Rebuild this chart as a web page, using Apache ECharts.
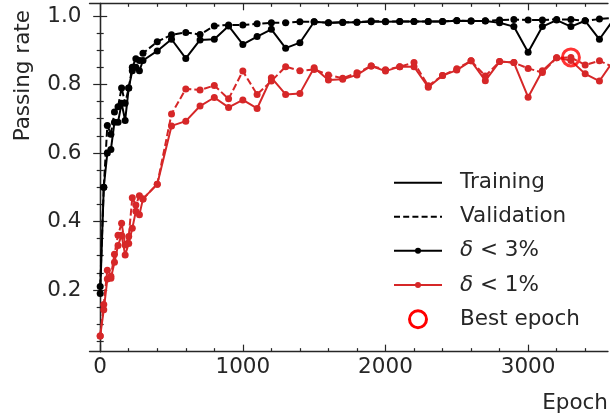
<!DOCTYPE html>
<html>
<head>
<meta charset="utf-8">
<script src="https://cdn.jsdelivr.net/npm/echarts@6/dist/echarts.min.js"></script>
<style>html,body{margin:0;padding:0;background:#fff;}#c{width:610px;height:416px;}</style>
</head>
<body>
<div id="c"></div>
<script>
// ---- data ----
const epochs = [0,25,50,75,100,125,150,175,200,225,250,275,300,
  400,500,600,700,800,900,1000,1100,1200,1300,1400,1500,1600,1700,1800,1900,2000,
  2100,2200,2300,2400,2500,2600,2700,2800,2900,3000,3100,3200,3300,3400,3500,3600];
const train3 = [0.19,0.50,0.60,0.61,0.69,0.69,0.745,0.695,0.79,0.84,0.85,0.84,0.87,
  0.898,0.932,0.876,0.93,0.932,0.971,0.917,0.94,0.961,0.906,0.922,0.983,0.98,0.981,0.982,0.983,0.983,
  0.984,0.984,0.984,0.984,0.986,0.985,0.985,0.98,0.969,0.894,0.969,0.988,0.969,0.986,0.932,0.99];
const valid3 = [0.21,0.50,0.68,0.655,0.72,0.735,0.79,0.745,0.79,0.85,0.875,0.87,0.891,
  0.925,0.945,0.952,0.946,0.971,0.974,0.974,0.977,0.98,0.98,0.983,0.983,0.98,0.982,0.982,0.985,0.984,
  0.984,0.984,0.984,0.984,0.987,0.985,0.986,0.988,0.99,0.988,0.988,0.99,0.99,0.986,0.991,0.995];
const train1 = [0.066,0.142,0.232,0.234,0.281,0.33,0.36,0.302,0.336,0.38,0.43,0.42,0.466,
  0.509,0.679,0.693,0.737,0.762,0.733,0.755,0.73,0.82,0.771,0.774,0.849,0.813,0.815,0.828,0.854,0.839,
  0.852,0.852,0.792,0.826,0.842,0.869,0.811,0.867,0.864,0.763,0.84,0.878,0.87,0.831,0.81,0.87];
const valid1 = [0.066,0.158,0.258,0.24,0.304,0.36,0.395,0.331,0.356,0.469,0.448,0.475,0.466,
  0.509,0.714,0.787,0.784,0.797,0.758,0.839,0.771,0.81,0.852,0.84,0.844,0.828,0.818,0.834,0.854,0.843,
  0.852,0.864,0.796,0.826,0.846,0.869,0.825,0.867,0.864,0.847,0.835,0.878,0.879,0.857,0.869,0.85];
const bestEpoch = [3300, 0.879];
const xMajorTicks = [0,1000,2000,3000];
const xMinorTicks = [200,400,600,800,1200,1400,1600,1800,2200,2400,2600,2800,3200,3400];
const yMajorTicks = [0.2,0.4,0.6,0.8,1.0];
const yMinorTicks = [0.05,0.1,0.15,0.25,0.3,0.35,0.45,0.5,0.55,0.65,0.7,0.75,0.85,0.9,0.95];
const legendLabels = ['Training','Validation','δ < 3%','δ < 1%','Best epoch'];
const xName = 'Epoch';
const yName = 'Passing rate';

// ---- chart ----
const FONT = 'DejaVu Sans';
const TXT = '#262626';
const FS = 21.5;
const X_MIN = -75, X_MAX = 3560, Y_MIN = 0.02, Y_MAX = 1.037;
const zip = (xs, ys) => xs.map((x, i) => [x, ys[i]]);

function xAx(pos, ticks, len, showLine, labels) {
  return {
    type: 'value', position: pos, min: X_MIN, max: X_MAX,
    axisLine: { show: showLine, lineStyle: { color: TXT, width: 1.3 } },
    axisTick: { show: true, inside: true, length: len, customValues: ticks, lineStyle: { color: TXT, width: 1.2 } },
    axisLabel: { show: labels, customValues: ticks, color: TXT, fontSize: FS, fontFamily: FONT, margin: 5,
      formatter: v => String(Math.round(v)) },
    splitLine: { show: false }, minorTick: { show: false }
  };
}
function yAx(pos, ticks, len, showLine, labels) {
  return {
    type: 'value', position: pos, min: Y_MIN, max: Y_MAX,
    axisLine: { show: showLine, lineStyle: { color: TXT, width: 1.3 } },
    axisTick: { show: true, inside: true, length: len, customValues: ticks, lineStyle: { color: TXT, width: 1.2 } },
    axisLabel: { show: labels, customValues: ticks, color: TXT, fontSize: FS, fontFamily: FONT, margin: 8,
      formatter: v => v.toFixed(1) },
    splitLine: { show: false }, minorTick: { show: false }
  };
}

const chart = echarts.init(document.getElementById('c'), null, { renderer: 'canvas' });

const RED = '#d62728';
const BLACK = '#000000';
const DASH = [7, 3];

const legX1 = 394, legX2 = 442, legTx = 460;
const legY = [182.7, 216.7, 250.7, 285, 319.3];
const graphics = [];
function legLine(y, color, dash) {
  graphics.push({ type: 'line', shape: { x1: legX1, y1: y, x2: legX2, y2: y },
    style: { stroke: color, lineWidth: 2, lineDash: dash || null }, z: 100 });
}
legLine(legY[0], BLACK);
legLine(legY[1], BLACK, [6, 3.2]);
legLine(legY[2], BLACK);
graphics.push({ type: 'circle', shape: { cx: 418, cy: legY[2], r: 3 }, style: { fill: BLACK }, z: 100 });
legLine(legY[3], RED);
graphics.push({ type: 'circle', shape: { cx: 418, cy: legY[3], r: 3 }, style: { fill: RED }, z: 100 });
graphics.push({ type: 'circle', shape: { cx: 418, cy: legY[4], r: 8.5 }, style: { fill: null, stroke: '#ff0000', lineWidth: 3 }, z: 100 });
legendLabels.forEach((t, i) => {
  const isDelta = t.startsWith('δ');
  graphics.push({ type: 'text', x: legTx, y: legY[i], z: 100,
    style: { text: isDelta ? '{i|δ}' + t.slice(1) : t, fill: TXT, fontSize: FS, fontFamily: FONT,
      verticalAlign: 'middle', align: 'left',
      rich: { i: { fontStyle: 'italic', fontSize: FS, fontFamily: FONT, fill: TXT } } } });
});
graphics.push({ type: 'text', x: 608, y: 403, z: 100,
  style: { text: xName, fill: TXT, fontSize: FS, fontFamily: FONT, align: 'right', verticalAlign: 'middle' } });
graphics.push({ type: 'text', x: 23, y: 10, rotation: Math.PI / 2, z: 100,
  style: { text: yName, fill: TXT, fontSize: FS, fontFamily: FONT, align: 'right', verticalAlign: 'middle' } });

function lineSeries(ys, color, dashed) {
  return {
    type: 'line', xAxisIndex: 0, yAxisIndex: 0, data: zip(epochs, ys),
    symbol: 'circle', symbolSize: 7, showSymbol: true, showAllSymbol: true, clip: true,
    itemStyle: { color: color }, lineStyle: { color: color, width: 2, type: dashed ? DASH : 'solid' },
    emphasis: { disabled: true }, silent: true
  };
}

chart.setOption({
  animation: false,
  backgroundColor: '#fff',
  grid: { left: 89.5, right: 2, top: 3.3, bottom: 416 - 351.65, containLabel: false },
  xAxis: [
    xAx('bottom', xMajorTicks, 7, true, true),
    xAx('bottom', xMinorTicks, 3.5, false, false),
    xAx('top', xMajorTicks, 7, true, false),
    xAx('top', xMinorTicks, 3.5, false, false)
  ],
  yAxis: [
    yAx('left', yMajorTicks, 7, true, true),
    yAx('left', yMinorTicks, 3.5, false, false),
    yAx('right', yMajorTicks, 7, true, false),
    yAx('right', yMinorTicks, 3.5, false, false)
  ],
  series: [
    lineSeries(train3, BLACK, false),
    lineSeries(valid3, BLACK, true),
    lineSeries(train1, RED, false),
    lineSeries(valid1, RED, true),
    { type: 'scatter', xAxisIndex: 0, yAxisIndex: 0, data: [bestEpoch], symbol: 'circle', symbolSize: 17,
      itemStyle: { color: 'rgba(0,0,0,0)', borderColor: '#ff0000', borderWidth: 3 }, z: 5, silent: true }
  ],
  graphic: graphics
});
</script>
</body>
</html>
